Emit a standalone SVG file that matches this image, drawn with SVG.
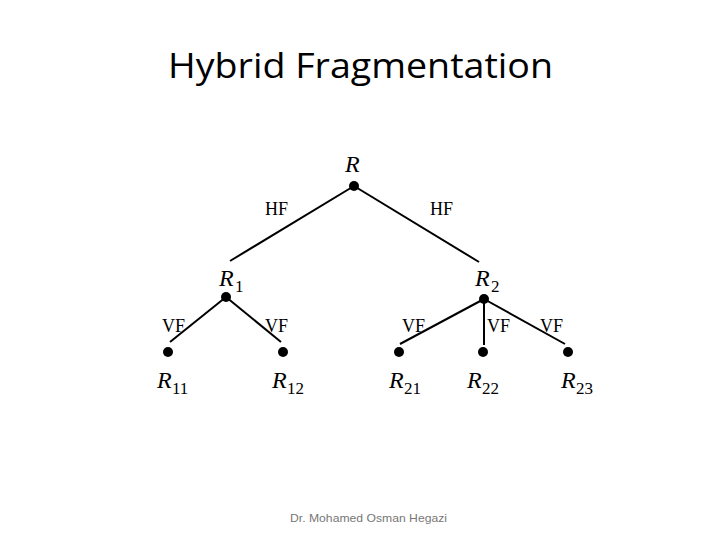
<svg xmlns="http://www.w3.org/2000/svg" width="720" height="540" viewBox="0 0 720 540">
<style>
.t{font-family:"Liberation Serif","Times New Roman",serif;fill:#000}
.r{font-style:italic;font-size:24px}
.s{font-size:17px}
.l{font-size:18px}
.e{stroke:#000;stroke-width:2;fill:none}
.d{fill:#000}
</style>
<rect width="720" height="540" fill="#fff"/>
<text x="168" y="78" font-family="'Open Sans','Liberation Sans',sans-serif" font-size="35" textLength="385" lengthAdjust="spacingAndGlyphs" fill="#000">Hybrid Fragmentation</text>
<g id="connectors">
<line class="e" x1="354" y1="186" x2="230" y2="261"/>
<line class="e" x1="354" y1="186" x2="479" y2="262"/>
<line class="e" x1="226" y1="297" x2="170" y2="342"/>
<line class="e" x1="226" y1="297" x2="281" y2="342"/>
<line class="e" x1="484" y1="299" x2="400" y2="344"/>
<line class="e" x1="484" y1="299" x2="484" y2="345"/>
<line class="e" x1="484" y1="299" x2="565" y2="344"/>
<text class="t l" x="265" y="215">HF</text>
<text class="t l" x="430" y="215">HF</text>
<text class="t l" x="162" y="332">VF</text>
<text class="t l" x="265" y="332">VF</text>
<text class="t l" x="402" y="332">VF</text>
<text class="t l" x="487" y="332">VF</text>
<text class="t l" x="540" y="332">VF</text>
</g>
<g id="R"><circle class="d" cx="354" cy="186" r="5"/><text class="t r" x="345" y="172">R</text></g>
<g id="R1"><circle class="d" cx="226" cy="297" r="5"/><text class="t r" x="219" y="286">R</text><text class="t s" x="235" y="292">1</text></g>
<g id="R2"><circle class="d" cx="484" cy="299" r="5"/><text class="t r" x="475" y="286">R</text><text class="t s" x="491" y="292">2</text></g>
<g id="R11"><circle class="d" cx="168" cy="352" r="5"/><text class="t r" x="157" y="388">R</text><text class="t s" x="172" y="394">11</text></g>
<g id="R12"><circle class="d" cx="283" cy="352" r="5"/><text class="t r" x="272" y="388">R</text><text class="t s" x="287" y="394">12</text></g>
<g id="R21"><circle class="d" cx="399" cy="352" r="5"/><text class="t r" x="389" y="388">R</text><text class="t s" x="404" y="394">21</text></g>
<g id="R22"><circle class="d" cx="483" cy="352" r="5"/><text class="t r" x="467" y="388">R</text><text class="t s" x="482" y="394">22</text></g>
<g id="R23"><circle class="d" cx="568" cy="352" r="5"/><text class="t r" x="561" y="388">R</text><text class="t s" x="576" y="394">23</text></g>
<text x="290" y="522" font-family="'Liberation Sans',sans-serif" font-size="11" textLength="157" lengthAdjust="spacingAndGlyphs" fill="#777">Dr. Mohamed Osman Hegazi</text>
</svg>
